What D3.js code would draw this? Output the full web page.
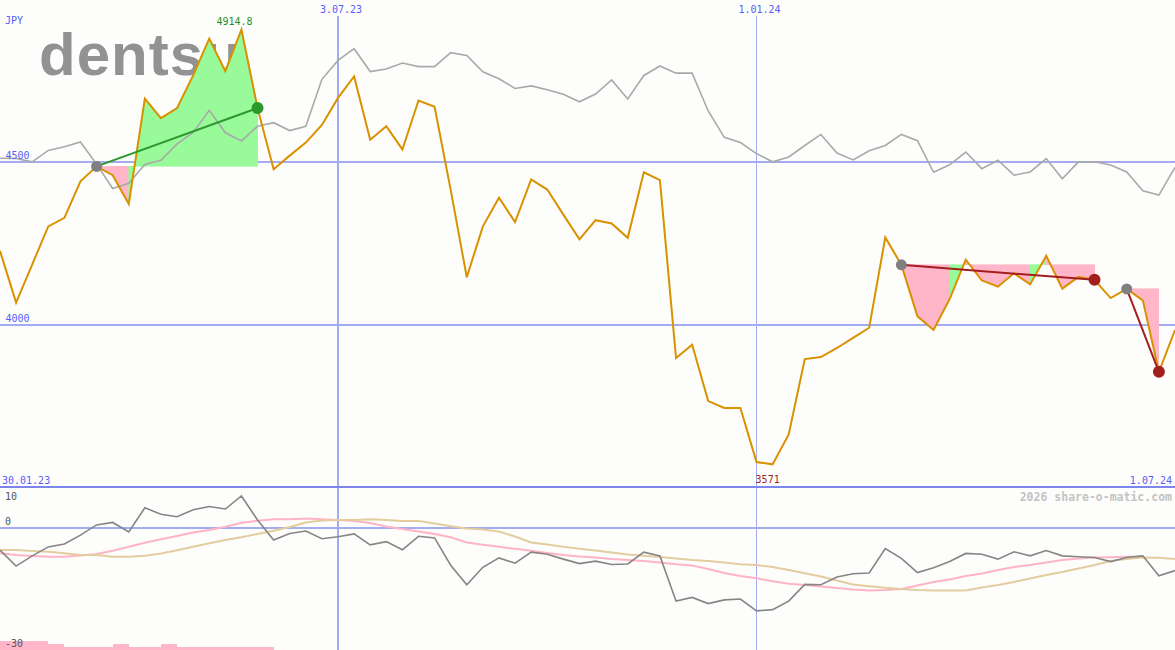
<!DOCTYPE html>
<html>
<head>
<meta charset="utf-8">
<script src="https://cdn.jsdelivr.net/npm/d3@7"></script>
<style>
html,body{margin:0;padding:0;background:#fdfefc;}
svg{display:block;}
text{font-family:"DejaVu Sans Mono",monospace;font-size:10px;}
</style>
</head>
<body>
<script>
// ---------- data ----------
const startDate = "2023-02-06";            // first weekly observation
const endDate = "2024-07-01";              // last weekly observation
const currency = "JPY";
const logoText = "dentsu";
const price = [4226,4067,4184,4301,4327,4439,4485,4458,4370,4693,4633,4664,4764,4877,4777,4905,4664,4476,4518,4558,
  4612,4695,4761,4567,4608,4537,4687,4668,4413,4145,4301,4389,4314,4445,4414,4337,4261,4320,4310,4266,
  4467,4443,3897,3938,3765,3744,3744,3578,3571,3663,3894,3900,3928,3959,3990,4267,4183,4025,3983,4078,
  4199,4135,4116,4157,4123,4211,4110,4146,4137,4081,4109,4074,3855,3983];
const benchmark = [4510,4509,4499,4534,4545,4560,4492,4417,4433,4491,4504,4554,4589,4657,4588,4563,4608,4619,4595,4608,
  4752,4810,4846,4776,4784,4802,4791,4791,4834,4825,4775,4754,4724,4732,4720,4706,4683,4707,4750,4692,
  4764,4793,4771,4771,4655,4574,4558,4524,4499,4514,4549,4583,4526,4505,4533,4549,4583,4564,4467,4490,
  4529,4478,4504,4458,4468,4509,4447,4499,4499,4489,4468,4410,4397,4482];
const relative = [-5.5,-9.4,-6.9,-4.7,-4.0,-1.8,0.7,1.3,-1.0,4.9,3.3,2.7,4.4,5.2,4.6,7.8,1.9,-3.0,-1.4,-0.8,
  -2.7,-2.2,-1.5,-4.2,-3.4,-5.4,-2.1,-2.5,-9.2,-14.0,-9.7,-7.4,-8.7,-6.0,-6.5,-7.7,-8.8,-8.2,-9.0,-8.9,
  -6.0,-6.9,-18.0,-17.1,-18.6,-17.7,-17.5,-20.4,-20.1,-18.0,-13.9,-14.0,-12.1,-11.3,-11.1,-5.1,-7.5,-11.0,-9.8,-8.3,
  -6.3,-6.5,-7.7,-5.9,-6.9,-5.6,-6.9,-7.1,-7.3,-8.3,-7.3,-6.9,-11.8,-10.5];
const avgShort = [-6.27,-6.69,-6.93,-7.10,-7.10,-6.79,-6.44,-5.63,-4.65,-3.67,-2.83,-2.02,-1.19,-0.55,0.26,1.24,1.73,2.07,2.07,2.27,
  2.07,1.90,1.66,1.17,0.31,-0.31,-0.92,-1.53,-2.34,-3.62,-4.16,-4.65,-5.17,-5.66,-6.17,-6.66,-7.06,-7.30,-7.67,-7.91,
  -8.16,-8.53,-8.97,-9.26,-10.12,-11.10,-11.84,-12.40,-13.12,-13.75,-14.05,-14.42,-14.79,-15.15,-15.37,-15.28,-15.03,-14.17,-13.31,-12.70,
  -11.84,-11.23,-10.37,-9.63,-9.14,-8.53,-7.91,-7.55,-7.33,-7.25,-7.13,-7.06];
const avgLong = [-5.46,-5.46,-5.71,-5.88,-6.27,-6.69,-6.69,-7.10,-7.10,-6.86,-6.32,-5.51,-4.65,-3.82,-3.01,-2.34,-1.53,-0.72,0.18,1.29,
  1.78,1.90,1.90,2.07,1.90,1.66,1.66,1.04,0.36,-0.16,-0.45,-0.94,-2.15,-3.62,-4.13,-4.65,-5.14,-5.58,-6.07,-6.56,
  -6.88,-7.18,-7.55,-7.91,-8.16,-8.53,-8.97,-9.14,-9.63,-10.37,-11.18,-11.96,-12.94,-13.93,-14.37,-14.74,-15.03,-15.28,-15.40,-15.42,
  -15.42,-14.66,-14.05,-13.31,-12.45,-11.60,-10.86,-10.00,-9.14,-8.16,-7.67,-7.30,-7.37,-7.67];
const signalBars = [3,3,3,2,1,1,1,2,1,1,2,1,1,1,1,1,1];
const trendStart = [6,56,70];
const trendEnd = [16,68,72];
const trendDir = ["up","down","down"];
const priceTicks = [4500,4000];
const lowerTicks = [10,0,-30];
const dateTicks = ["2023-07-03","2024-01-01"];
const dateTickLabels = ["3.07.23","1.01.24"];
const rangeLabels = ["30.01.23","1.07.24"];
const maxLabel = "4914.8";
const minLabel = "3571";
const creditText = "2026 share-o-matic.com";

// ---------- setup ----------
const W = 1175, H = 650;
const parse = d3.utcParse("%Y-%m-%d");
const t0 = parse(startDate);
const dates = price.map((_, i) => d3.utcDay.offset(t0, 7 * i));
const x = d3.scaleUtc().domain([t0, parse(endDate)]).range([0, W]);
const y = d3.scaleLinear().domain([3500, 5000]).range([487.5, -1.5]);
const yl = d3.scaleLinear().domain([-30, 10]).range([650, 487]);
const yb = d3.scaleLinear().domain([0, 3]).range([650, 641]);

const C = {
  bg: "#fdfefc", grid: "#a3acf1", sep: "#7b85ec", txt: "#5560f5",
  price: "#d99100", bench: "#a9a9a9", rel: "#858585", s: "#ffb3c6", l: "#e3cc9e",
  green: "#98fa98", pink: "#ffb6c8", up: "#2b9a2b", down: "#a31f1f", dot: "#808080"
};

const svg = d3.select("body").append("svg").attr("width", W).attr("height", H);
svg.append("rect").attr("width", W).attr("height", H).attr("fill", C.bg);

// logo
svg.append("text").text(logoText).attr("x", 39).attr("y", 75)
  .style("font-family", "'Liberation Sans',Arial,sans-serif").style("font-weight", "bold")
  .style("font-size", "60px").attr("letter-spacing", "1px").attr("fill", "#929292");

// grid
const g = svg.append("g").attr("shape-rendering", "crispEdges");
priceTicks.forEach(v => g.append("line").attr("x1", 0).attr("x2", W).attr("y1", y(v)).attr("y2", y(v))
  .attr("stroke", C.grid).attr("stroke-width", 2));
dateTicks.forEach((d, k) => g.append("line").attr("x1", x(parse(d))).attr("x2", x(parse(d)))
  .attr("y1", 16).attr("y2", H).attr("stroke", C.grid).attr("stroke-width", k === 0 ? 2 : 1.3));
g.append("line").attr("x1", 0).attr("x2", W).attr("y1", 487).attr("y2", 487).attr("stroke", C.sep).attr("stroke-width", 2);
g.append("line").attr("x1", 0).attr("x2", W).attr("y1", yl(0)).attr("y2", yl(0)).attr("stroke", C.grid).attr("stroke-width", 2);

// signal bars in lower panel
g.selectAll("rect.bar").data(signalBars).join("rect").attr("class", "bar")
  .attr("x", (d, i) => x(dates[i])).attr("width", (d, i) => x(dates[i + 1]) - x(dates[i]))
  .attr("y", d => yb(d)).attr("height", d => yb(0) - yb(d)).attr("fill", C.pink);

// trend fills: each weekly segment filled between the start level and the price,
// green when the segment closes above the start level, pink when below
const fills = svg.append("g").attr("shape-rendering", "crispEdges");
trendStart.forEach((s, k) => {
  const e = trendEnd[k];
  const base = price[s];
  d3.range(s, e).forEach(i => {
    const pts = [[x(dates[i]), y(base)], [x(dates[i]), y(price[i])],
                 [x(dates[i + 1]), y(price[i + 1])], [x(dates[i + 1]), y(base)]];
    const col = price[i + 1] >= base ? C.green : C.pink;
    fills.append("path").attr("d", "M" + pts.join("L") + "Z")
      .attr("fill", col).attr("stroke", col).attr("stroke-width", 0.6);
  });
});

// main lines
const lineP = d3.line().x((d, i) => x(dates[i])).y(d => y(d));
svg.append("path").datum(benchmark).attr("d", lineP).attr("fill", "none").attr("stroke", C.bench).attr("stroke-width", 1.6);
svg.append("path").datum(price).attr("d", lineP).attr("fill", "none").attr("stroke", C.price).attr("stroke-width", 2);

// lower panel lines
const lineL = d3.line().x((d, i) => x(dates[i])).y(d => yl(d));
svg.append("path").datum(avgShort).attr("d", lineL).attr("fill", "none").attr("stroke", C.s).attr("stroke-width", 2);
svg.append("path").datum(avgLong).attr("d", lineL).attr("fill", "none").attr("stroke", C.l).attr("stroke-width", 2);
svg.append("path").datum(relative).attr("d", lineL).attr("fill", "none").attr("stroke", C.rel).attr("stroke-width", 1.6);

// trend lines and dots
trendStart.forEach((s, k) => {
  const e = trendEnd[k];
  const col = trendDir[k] === "up" ? C.up : C.down;
  svg.append("line").attr("x1", x(dates[s])).attr("y1", y(price[s])).attr("x2", x(dates[e])).attr("y2", y(price[e]))
    .attr("stroke", col).attr("stroke-width", 2);
  svg.append("circle").attr("cx", x(dates[s])).attr("cy", y(price[s])).attr("r", 5.5).attr("fill", C.dot);
  svg.append("circle").attr("cx", x(dates[e])).attr("cy", y(price[e])).attr("r", 6).attr("fill", col);
});

// texts
const T = (s, xx, yy, col, anchor) => svg.append("text").text(s).attr("x", xx).attr("y", yy)
  .attr("fill", col).attr("text-anchor", anchor || "start");
T(currency, 5, 23.5, C.txt);
const imax = price.indexOf(d3.max(price));
const imin = price.indexOf(d3.min(price));
T(maxLabel, x(dates[imax]) - 25, 25, "#1f8f1f");
T(minLabel, x(dates[imin]) - 17, 483.3, C.down);
priceTicks.forEach(v => T(String(v), 5.5, y(v) - 2.5, C.txt));
dateTicks.forEach((d, k) => T(dateTickLabels[k], x(parse(d)) + 3, 12.5, C.txt, "middle"));
T(rangeLabels[0], 2, 483.5, C.txt);
T(rangeLabels[1], 1172, 483.5, C.txt, "end");
svg.append("text").text(creditText).attr("x", 1172).attr("y", 501).attr("text-anchor", "end")
  .attr("fill", "#c3c3c3").style("font-size", "11.5px").style("font-weight", "bold");
lowerTicks.forEach(v => T(String(v), 5, v === 10 ? 499.5 : v === 0 ? 525 : 647, "#555"));
</script>
</body>
</html>
